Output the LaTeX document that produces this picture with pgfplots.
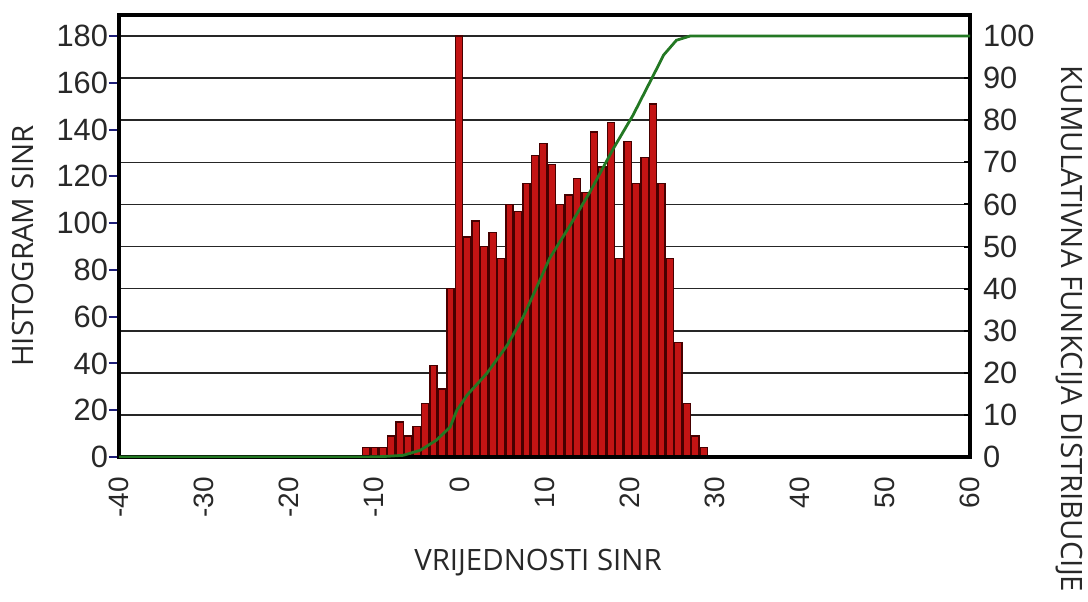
\documentclass[border=0pt]{standalone}
\usepackage{fontspec}
\setmainfont{Liberation Sans}
\newfontfamily\labelfont{Open Sans}
\usepackage{pgfplots}
\pgfplotsset{compat=1.18}
\definecolor{barfill}{RGB}{195,20,20}
\definecolor{barline}{RGB}{70,0,0}
\definecolor{cdf}{RGB}{35,120,35}
\definecolor{tickblue}{RGB}{30,30,120}
\definecolor{txt}{RGB}{40,40,40}
\pgfplotsset{base/.style={scale only axis, width=425.5pt, height=221pt,
  xmin=-40, xmax=60, at={(0,0)}, anchor=south west,
  /pgf/number format/assume math mode=true}}
\begin{document}
\begin{tikzpicture}
% right scale: grid and right ticks
\begin{axis}[base, ymin=0, ymax=105,
  axis line style={draw=none}, xtick=\empty,
  ytick={0,10,...,100}, ytick pos=right, yticklabel pos=right,
  tick align=inside, major tick length=3pt,
  ymajorgrids, grid style={black!85, line width=0.8pt},
  ytick style={black, line width=1pt},
  yticklabel style={font=\fontsize{15.4}{16}\selectfont, text=txt, xshift=3pt}]
\end{axis}
% left scale: histogram
\begin{axis}[base, ymin=0, ymax=189, axis on top,
  ytick={0,20,...,180}, ytick pos=left, tick align=outside,
  major tick length=5pt,
  ytick style={tickblue, line width=1pt},
  yticklabel style={font=\fontsize{15.4}{16}\selectfont, text=txt, xshift=3pt},
  xtick={-40,-30,...,60}, xtick style={draw=none},
  xticklabel style={rotate=90, anchor=east, font=\fontsize{14}{15}\selectfont, text=txt, xshift=-1.5pt},
  axis line style={line width=2.3pt, black}]
\addplot[ybar, bar width=0.86, fill=barfill, draw=barline, line width=0.7pt] coordinates {
(-10.97,4) (-9.98,4) (-8.99,4) (-8.0,9) (-7.0,15) (-6.01,9) (-5.02,13) (-4.03,23)
(-3.04,39) (-2.04,29) (-1.05,72) (-0.06,180) (0.93,94) (1.92,101) (2.92,90) (3.91,96)
(4.90,85) (5.89,108) (6.88,105) (7.88,117) (8.87,129) (9.86,134) (10.85,125) (11.84,108)
(12.84,112) (13.83,119) (14.82,113) (15.81,139) (16.80,124) (17.80,143) (18.79,85)
(19.78,135) (20.77,117) (21.76,128) (22.76,151) (23.75,117) (24.74,85) (25.73,49)
(26.72,23) (27.72,9) (28.71,4)};
\end{axis}
% right scale: cumulative distribution
\begin{axis}[base, ymin=0, ymax=105, hide axis]
\addplot[cdf, line width=1.4pt] coordinates {
(-40,0) (-11,0) (-9,0.1) (-6.6,0.4) (-4.6,1.6) (-2.7,4) (-1.1,7.1) (-0.3,11.1)
(0.9,14.7) (3.2,19.8) (5.6,26.5) (7.5,33.3) (9.1,40.4) (10.6,47.2) (13.0,55)
(15.35,63) (18.1,73.3) (20.4,81.2) (22.8,90.7) (24.0,95.5) (25.5,99) (27.1,100) (60,100)};
\end{axis}
\node[rotate=90, text=txt, font=\labelfont\fontsize{14.7}{15}\selectfont] at (-48pt,105.5pt) {HISTOGRAM SINR};
\node[text=txt, font=\labelfont\fontsize{14.7}{15}\selectfont] at (209.5pt,-52.75pt) {VRIJEDNOSTI SINR};
\node[rotate=-90, text=txt, font=\labelfont\fontsize{14.7}{15}\selectfont] at (475pt,64pt) {KUMULATIVNA FUNKCIJA DISTRIBUCIJE};
\pgfresetboundingbox
\path (-59.5pt,-72pt) rectangle (484.5pt,228.5pt);
\end{tikzpicture}
\end{document}
